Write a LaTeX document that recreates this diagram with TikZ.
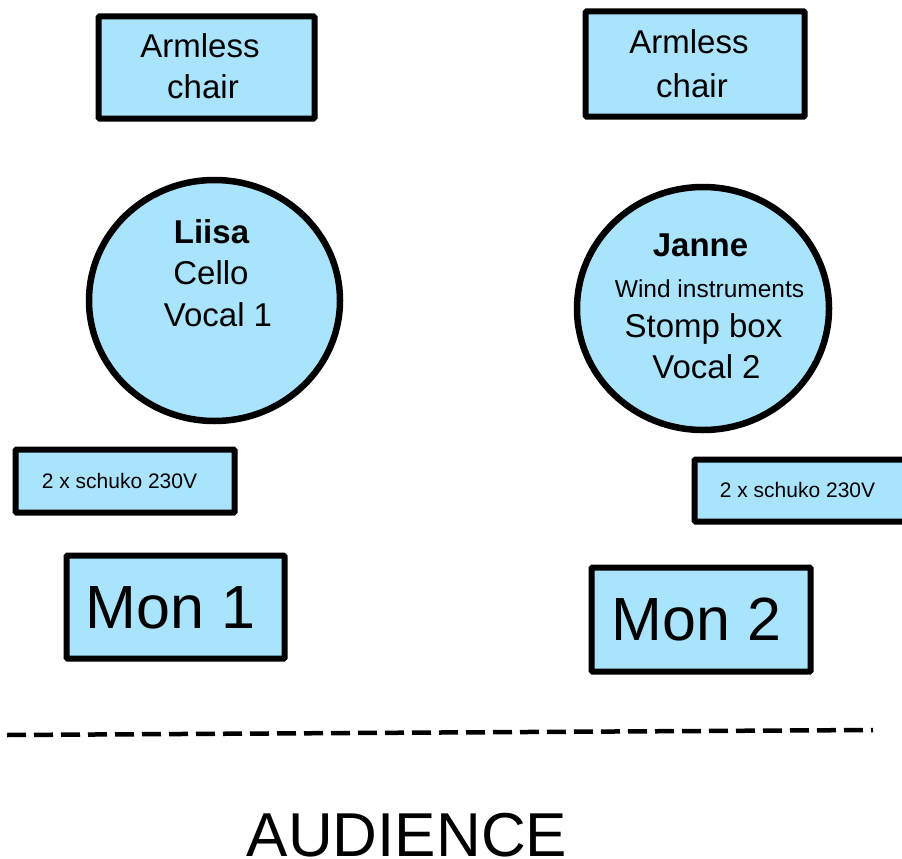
\documentclass[tikz,border=0pt]{standalone}
\usepackage{fontspec}
\setmainfont{Liberation Sans}
\usetikzlibrary{shapes.geometric}
\definecolor{fillblue}{RGB}{170,228,252}
\begin{document}
\begin{tikzpicture}[x=1pt,y=-1pt,
  box/.style={draw=black, fill=fillblue, line width=6pt, rectangle, inner sep=0pt, rounded corners=1pt},
  person/.style={draw=black, fill=fillblue, line width=6.5pt, ellipse, inner sep=0pt},
  txt/.style={anchor=base, inner sep=0pt, font=\fontsize{33}{40}\selectfont},
  small/.style={anchor=base, inner sep=0pt, font=\fontsize{21}{25}\selectfont},
  big/.style={anchor=base, inner sep=0pt, font=\fontsize{61}{70}\selectfont}]
\useasboundingbox (0,0) rectangle (902,859);
\clip (0,0) rectangle (902,859);

% chairs
\node[box, minimum width=216pt, minimum height=102pt] (chair1) at (206.5,67.5) {};
\node[txt] (chair1a) at (200,58) {Armless};
\node[txt] (chair1b) at (203,99) {chair};
\node[box, minimum width=219pt, minimum height=105pt] (chair2) at (695,64) {};
\node[txt] (chair2a) at (689,54) {Armless};
\node[txt] (chair2b) at (692,97) {chair};

% musicians
\node[person, minimum width=251pt, minimum height=241pt] (liisa) at (214.5,300.5) {};
\node[txt, font=\fontsize{33}{40}\selectfont\bfseries] (liisaname) at (211.5,243) {Liisa};
\node[txt] (liisa2) at (211,284) {Cello};
\node[txt] (liisa3) at (218,326) {Vocal 1};

\node[person, minimum width=252pt, minimum height=243pt] (janne) at (703,308.5) {};
\node[txt, font=\fontsize{33}{40}\selectfont\bfseries] (jannename) at (700.5,256) {Janne};
\node[anchor=base, inner sep=0pt, font=\fontsize{24.5}{28}\selectfont] (janne2) at (709.5,297) {Wind instruments};
\node[txt] (janne3) at (703.5,337) {Stomp box};
\node[txt] (janne4) at (706.5,378) {Vocal 2};

% power
\node[box, minimum width=219pt, minimum height=63pt] (power1) at (125,481) {};
\node[small] (power1t) at (119.5,488) {2 x schuko 230V};
\node[box, minimum width=220pt, minimum height=62pt] (power2) at (804.5,490.5) {};
\node[small] (power2t) at (797.5,497) {2 x schuko 230V};

% monitors
\node[box, minimum width=218pt, minimum height=103pt] (mon1) at (175.5,607) {};
\node[big] (mon1t) at (170.5,628) {Mon 1};
\node[box, minimum width=219pt, minimum height=104pt] (mon2) at (701,619.5) {};
\node[big] (mon2t) at (696.5,640) {Mon 2};

% stage edge
\coordinate (edgeL) at (7,735);
\coordinate (edgeR) at (873,730);
\draw[line width=4.5pt, dash pattern=on 19pt off 8pt] (edgeL) -- (edgeR);

\node[anchor=base, inner sep=0pt, font=\fontsize{62}{70}\selectfont] (aud) at (407,856) {AUDIENCE};
\end{tikzpicture}
\end{document}
